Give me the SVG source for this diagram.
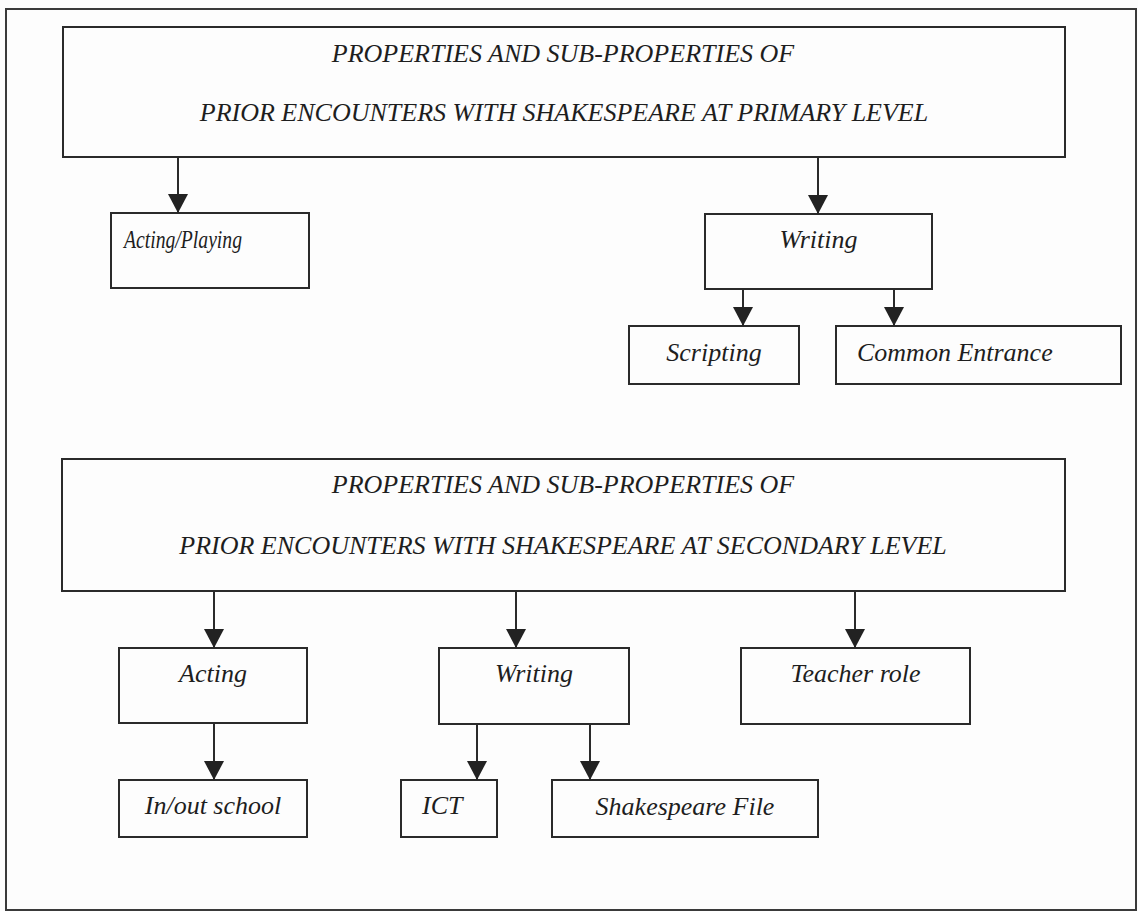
<svg xmlns="http://www.w3.org/2000/svg" width="1138" height="911" viewBox="0 0 1138 911">
  <style>
    .box { fill: none; stroke: #2a2a2a; stroke-width: 2; }
    .frame { fill: none; stroke: #3a3a3a; stroke-width: 2; }
    .lbl { font-family: "Liberation Serif", "Times New Roman", serif; font-style: italic; font-size: 26px; fill: #1e1e1e; }
    .mid { text-anchor: middle; }
    .conn { stroke: #2a2a2a; stroke-width: 2; fill: none; marker-end: url(#head); }
  </style>
  <defs>
    <marker id="head" markerUnits="userSpaceOnUse" viewBox="0 0 19 20" refX="19" refY="10" markerWidth="19" markerHeight="20" orient="auto">
      <path d="M0,0 L19,10 L0,20 z" fill="#222"/>
    </marker>
  </defs>

  <rect x="0" y="0" width="1138" height="911" fill="#fdfdfd"/>
  <rect class="frame" x="6" y="9" width="1130" height="901"/>

  <!-- primary level -->
  <g id="primary-header">
    <rect class="box" x="63" y="27" width="1002" height="130"/>
    <text class="lbl mid" x="563" y="62">PROPERTIES AND SUB-PROPERTIES OF</text>
    <text class="lbl mid" x="564" y="121">PRIOR ENCOUNTERS WITH SHAKESPEARE AT PRIMARY LEVEL</text>
  </g>
  <g id="acting-playing">
    <rect class="box" x="111" y="213" width="198" height="75"/>
    <text class="lbl" x="124" y="248" font-size="24" textLength="118" lengthAdjust="spacingAndGlyphs">Acting/Playing</text>
  </g>
  <g id="writing-primary">
    <rect class="box" x="705" y="214" width="227" height="75"/>
    <text class="lbl mid" x="818.5" y="248">Writing</text>
  </g>
  <g id="scripting">
    <rect class="box" x="629" y="326" width="170" height="58"/>
    <text class="lbl mid" x="714" y="361">Scripting</text>
  </g>
  <g id="common-entrance">
    <rect class="box" x="836" y="326" width="285" height="58"/>
    <text class="lbl" x="857" y="361">Common Entrance</text>
  </g>

  <!-- secondary level -->
  <g id="secondary-header">
    <rect class="box" x="62" y="459" width="1003" height="132"/>
    <text class="lbl mid" x="563" y="493">PROPERTIES AND SUB-PROPERTIES OF</text>
    <text class="lbl mid" x="563" y="554">PRIOR ENCOUNTERS WITH SHAKESPEARE AT SECONDARY LEVEL</text>
  </g>
  <g id="acting">
    <rect class="box" x="119" y="648" width="188" height="75"/>
    <text class="lbl mid" x="213" y="682">Acting</text>
  </g>
  <g id="writing-secondary">
    <rect class="box" x="439" y="648" width="190" height="76"/>
    <text class="lbl mid" x="534" y="682">Writing</text>
  </g>
  <g id="teacher-role">
    <rect class="box" x="741" y="648" width="229" height="76"/>
    <text class="lbl mid" x="855.5" y="682">Teacher role</text>
  </g>
  <g id="in-out-school">
    <rect class="box" x="119" y="780" width="188" height="57"/>
    <text class="lbl mid" x="213" y="814">In/out school</text>
  </g>
  <g id="ict">
    <rect class="box" x="401" y="780" width="96" height="57"/>
    <text class="lbl" x="422" y="814">ICT</text>
  </g>
  <g id="shakespeare-file">
    <rect class="box" x="552" y="780" width="266" height="57"/>
    <text class="lbl mid" x="685" y="815">Shakespeare File</text>
  </g>

  <g id="connectors">
    <line class="conn" x1="178" y1="157" x2="178" y2="213"/>
    <line class="conn" x1="818" y1="157" x2="818" y2="214"/>
    <line class="conn" x1="743" y1="289" x2="743" y2="326"/>
    <line class="conn" x1="894" y1="289" x2="894" y2="326"/>
    <line class="conn" x1="214" y1="591" x2="214" y2="648"/>
    <line class="conn" x1="516" y1="591" x2="516" y2="648"/>
    <line class="conn" x1="855" y1="591" x2="855" y2="648"/>
    <line class="conn" x1="214" y1="723" x2="214" y2="780"/>
    <line class="conn" x1="477" y1="724" x2="477" y2="780"/>
    <line class="conn" x1="590" y1="724" x2="590" y2="780"/>
  </g>
</svg>
